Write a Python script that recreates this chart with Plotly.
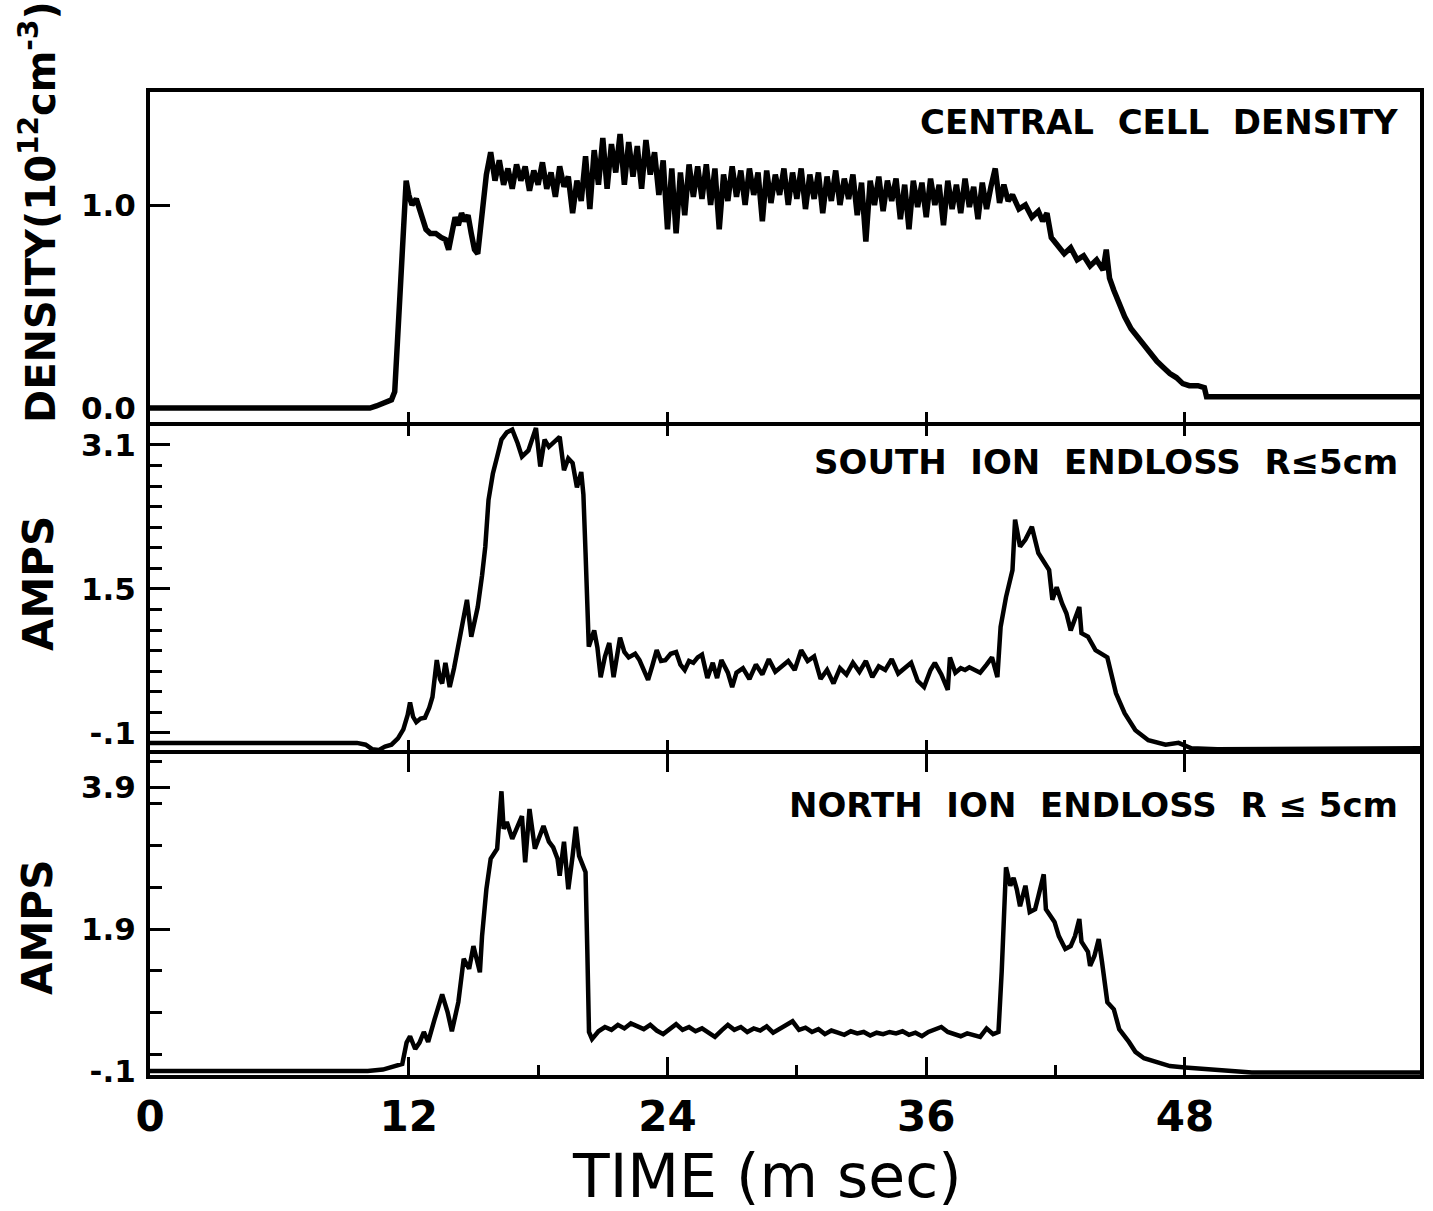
import plotly.graph_objects as go

# ---------------- DATA ----------------
# x axis: TIME (msec)
x_tick_vals = [0, 12, 24, 36, 48]
x_tick_text = ["0", "12", "24", "36", "48"]
x_minor_vals = [18, 30, 42]

# Panel 1: central cell density (10^12 cm^-3)
den_t_a = [0, 10.2, 10.5, 10.9, 11.2, 11.35, 11.45, 11.6, 11.75, 11.88, 12.0, 12.15, 12.35, 12.55, 12.8,
           13.0, 13.25, 13.5, 13.7, 13.85, 14.0, 14.15, 14.3, 14.45, 14.6, 14.75, 14.9, 15.05, 15.2, 15.35, 15.5]
den_v_a = [0.0, 0.0, 0.01, 0.03, 0.04, 0.08, 0.30, 0.62, 0.92, 1.12, 1.05, 1.0, 1.03, 0.97, 0.88,
           0.86, 0.86, 0.84, 0.83, 0.78, 0.86, 0.94, 0.90, 0.96, 0.92, 0.95, 0.86, 0.78, 0.76, 0.90, 1.05]
den_t_b = [15.6, 15.8, 16.0, 16.2, 16.4, 16.6, 16.8, 17.0, 17.2, 17.4, 17.6, 17.8, 18.0, 18.2, 18.4,
           18.6, 18.8, 19.0, 19.2, 19.4, 19.6, 19.8, 20.0, 20.2, 20.4, 20.6, 20.8, 21.0, 21.2, 21.4,
           21.6, 21.8, 22.0, 22.2, 22.4, 22.6, 22.8, 23.0, 23.2, 23.4, 23.6, 23.8, 24.0, 24.2, 24.4,
           24.6, 24.8, 25.0, 25.2, 25.4, 25.6, 25.8, 26.0, 26.2, 26.4, 26.6, 26.8, 27.0, 27.2, 27.4,
           27.6, 27.8, 28.0, 28.2, 28.4, 28.6, 28.8, 29.0, 29.2, 29.4, 29.6, 29.8, 30.0, 30.2, 30.4,
           30.6, 30.8, 31.0, 31.2, 31.4, 31.6, 31.8, 32.0, 32.2, 32.4, 32.6, 32.8, 33.0, 33.2, 33.4,
           33.6, 33.8, 34.0, 34.2, 34.4, 34.6, 34.8, 35.0, 35.2, 35.4, 35.6, 35.8, 36.0, 36.2, 36.4,
           36.6, 36.8, 37.0, 37.2, 37.4, 37.6, 37.8, 38.0, 38.2, 38.4, 38.6, 38.8, 39.0, 39.2, 39.4,
           39.6, 39.8, 40.0]
den_v_b = [1.15, 1.26, 1.12, 1.22, 1.10, 1.18, 1.08, 1.20, 1.12, 1.19, 1.07, 1.17, 1.10, 1.21, 1.08,
           1.16, 1.04, 1.19, 1.09, 1.14, 0.96, 1.12, 1.02, 1.24, 0.98, 1.27, 1.10, 1.33, 1.08, 1.30,
           1.16, 1.35, 1.10, 1.31, 1.14, 1.29, 1.08, 1.32, 1.15, 1.26, 1.05, 1.22, 0.88, 1.18, 0.86,
           1.16, 0.95, 1.20, 1.04, 1.19, 1.03, 1.20, 1.00, 1.18, 0.88, 1.15, 1.02, 1.19, 1.04, 1.17,
           1.00, 1.18, 1.05, 1.16, 0.92, 1.17, 1.01, 1.15, 1.05, 1.18, 1.00, 1.16, 1.03, 1.18, 0.98,
           1.15, 1.03, 1.16, 0.96, 1.14, 1.02, 1.17, 1.00, 1.13, 1.03, 1.15, 0.95, 1.11, 0.82, 1.12,
           1.00, 1.14, 0.97, 1.12, 1.02, 1.13, 0.93, 1.10, 0.88, 1.12, 0.99, 1.11, 0.94, 1.13, 1.00,
           1.10, 0.90, 1.12, 0.98, 1.10, 0.96, 1.13, 0.99, 1.09, 0.93, 1.11, 0.98, 1.09, 1.18, 1.01,
           1.10, 1.02, 1.05]
den_t_c = [40.3, 40.6, 40.9, 41.2, 41.4, 41.6, 41.8, 42.1, 42.4, 42.7, 43.0, 43.3, 43.6, 43.9, 44.2,
           44.35, 44.5, 44.7, 44.9, 45.2, 45.5, 45.8, 46.1, 46.4, 46.7, 47.0, 47.3, 47.6, 47.9, 48.2,
           48.6, 48.9, 49.0, 58.9]
den_v_c = [0.98, 1.00, 0.94, 0.97, 0.92, 0.96, 0.84, 0.80, 0.76, 0.79, 0.73, 0.75, 0.70, 0.73, 0.68,
           0.78, 0.64, 0.58, 0.52, 0.45, 0.39, 0.35, 0.30, 0.27, 0.23, 0.20, 0.17, 0.15, 0.12, 0.11,
           0.11, 0.10, 0.055, 0.055]

# Panel 2: south ion endloss (A)
south_t_a = [0, 9.6, 10.0, 10.3, 10.6, 10.9, 11.2, 11.5, 11.75, 11.95, 12.06, 12.2, 12.35, 12.55, 12.75,
             12.95, 13.1, 13.3, 13.45, 13.55, 13.7, 13.9, 14.1, 14.3, 14.5, 14.7, 14.9, 15.05, 15.2, 15.4,
             15.55, 15.7, 15.9, 16.1, 16.3, 16.55, 16.8, 17.05, 17.25, 17.55, 17.75, 17.9, 18.1, 18.3, 18.5,
             18.7, 19.0, 19.2, 19.4, 19.6, 19.8, 20.0, 20.1, 20.2, 20.35, 20.6, 20.75, 20.9, 21.1, 21.3,
             21.5, 21.8, 22.0, 22.2, 22.5, 22.7, 22.9, 23.1, 23.3, 23.5, 23.7, 23.9, 24.15, 24.4, 24.6,
             24.8, 25.0, 25.2, 25.4, 25.6, 25.85, 26.1, 26.3, 26.5, 26.8, 27.0, 27.2]
south_v_a = [-0.21, -0.21, -0.23, -0.28, -0.29, -0.25, -0.23, -0.16, -0.06, 0.10, 0.24, 0.08, 0.02, 0.06, 0.07,
             0.18, 0.30, 0.71, 0.50, 0.45, 0.68, 0.41, 0.62, 0.86, 1.10, 1.38, 0.97, 1.15, 1.30, 1.65,
             1.97, 2.49, 2.78, 2.97, 3.16, 3.24, 3.27, 3.12, 2.97, 3.04, 3.18, 3.29, 2.86, 3.16, 3.08,
             3.12, 3.19, 2.82, 2.95, 2.90, 2.63, 2.80, 2.55, 1.90, 0.86, 1.04, 0.85, 0.52, 0.75, 0.90,
             0.52, 0.96, 0.80, 0.74, 0.78, 0.71, 0.60, 0.49, 0.65, 0.82, 0.70, 0.71, 0.78, 0.80, 0.66,
             0.60, 0.70, 0.68, 0.74, 0.77, 0.51, 0.68, 0.51, 0.71, 0.57, 0.41, 0.57]
south_t_b = [27.5, 27.8, 28.1, 28.4, 28.7, 29.0, 29.3, 29.6, 29.9, 30.2, 30.5, 30.8, 31.1, 31.4, 31.7,
             32.0, 32.3, 32.6, 32.9, 33.2, 33.5, 33.8, 34.1, 34.4, 34.7, 35.0, 35.3, 35.6, 35.9, 36.2,
             36.4, 36.7, 37.0, 37.1, 37.35, 37.6, 37.8, 38.0, 38.25, 38.5, 38.8, 39.05, 39.3]
south_v_b = [0.62, 0.50, 0.66, 0.55, 0.72, 0.58, 0.64, 0.70, 0.60, 0.82, 0.70, 0.75, 0.50, 0.60, 0.45,
             0.62, 0.55, 0.68, 0.58, 0.70, 0.52, 0.64, 0.60, 0.72, 0.56, 0.62, 0.68, 0.48, 0.41, 0.60,
             0.68, 0.55, 0.38, 0.74, 0.57, 0.62, 0.60, 0.63, 0.60, 0.57, 0.66, 0.74, 0.52]
south_t_c = [39.45, 39.7, 40.0, 40.12, 40.35, 40.6, 40.9, 41.2, 41.45, 41.7, 41.85, 42.05, 42.3, 42.5, 42.7,
             42.9, 43.1, 43.2, 43.5, 43.85, 44.1, 44.4, 44.8, 45.2, 45.7, 46.3, 47.1, 47.7, 48.3, 49.5, 58.9]
south_v_c = [1.08, 1.41, 1.71, 2.27, 1.97, 2.05, 2.19, 1.90, 1.80, 1.71, 1.38, 1.52, 1.34, 1.23, 1.04,
             1.18, 1.30, 1.01, 0.97, 0.82, 0.78, 0.74, 0.34, 0.12, -0.07, -0.18, -0.23, -0.21, -0.27, -0.28, -0.27]

# Panel 3: north ion endloss (A)
north_t_a = [0, 10.1, 10.8, 11.5, 11.7, 11.9, 12.06, 12.3, 12.5, 12.7, 12.9, 13.2, 13.55, 13.8, 14.0,
             14.3, 14.55, 14.8, 15.0, 15.3, 15.4, 15.6, 15.8, 16.1, 16.2, 16.3, 16.4, 16.55, 16.8, 17.0,
             17.25, 17.4, 17.6, 17.85, 18.05, 18.25, 18.5, 18.7, 18.9, 19.0, 19.2, 19.4, 19.6, 19.75, 19.9,
             20.1, 20.2, 20.28, 20.36, 20.5]
north_v_a = [-0.1, -0.1, -0.08, -0.03, 0.0, 0.3, 0.39, 0.21, 0.30, 0.45, 0.31, 0.63, 0.98, 0.73, 0.46,
             0.87, 1.48, 1.34, 1.66, 1.29, 1.80, 2.46, 2.89, 3.03, 3.55, 3.84, 3.31, 3.41, 3.17, 3.31,
             3.49, 2.84, 3.59, 3.03, 3.20, 3.35, 3.13, 3.05, 2.89, 2.65, 3.13, 2.46, 2.93, 3.34, 2.93,
             2.80, 2.70, 1.62, 0.45, 0.35]
north_t_b = [20.8, 21.1, 21.4, 21.7, 22.0, 22.3, 22.6, 22.9, 23.2, 23.5, 23.8, 24.1, 24.4, 24.7, 25.0,
             25.3, 25.6, 25.9, 26.2, 26.5, 26.8, 27.1, 27.4, 27.7, 28.0, 28.3, 28.6, 28.9, 29.2, 29.5,
             29.8, 30.1, 30.4, 30.7, 31.0, 31.3, 31.6, 31.9, 32.2, 32.5, 32.8, 33.1, 33.4, 33.7, 34.0,
             34.3, 34.6, 34.9, 35.2, 35.5, 35.8, 36.1, 36.4, 36.7, 37.0, 37.3, 37.6, 37.9, 38.2, 38.5,
             38.8, 39.1]
north_v_b = [0.46, 0.52, 0.48, 0.55, 0.50, 0.57, 0.53, 0.49, 0.55, 0.47, 0.42, 0.50, 0.56, 0.48, 0.52,
             0.46, 0.50, 0.44, 0.38, 0.47, 0.55, 0.48, 0.52, 0.45, 0.50, 0.47, 0.53, 0.44, 0.49, 0.54,
             0.60, 0.48, 0.51, 0.45, 0.49, 0.42, 0.47, 0.44, 0.41, 0.46, 0.43, 0.45, 0.40, 0.44, 0.42,
             0.45, 0.43, 0.46, 0.41, 0.44, 0.39, 0.45, 0.49, 0.52, 0.45, 0.42, 0.39, 0.43, 0.40, 0.38,
             0.50, 0.42]
north_t_c = [39.35, 39.5, 39.7, 39.9, 40.05, 40.2, 40.35, 40.6, 40.8, 41.05, 41.2, 41.45, 41.55, 41.75, 41.95,
             42.15, 42.45, 42.7, 42.9, 43.1, 43.2, 43.5, 43.6, 43.8, 44.0, 44.15, 44.4, 44.7, 44.95, 45.4,
             45.7, 46.1, 46.6, 47.3, 48.0, 48.8, 49.8, 50.6, 51.1, 58.9]
north_v_c = [0.45, 1.3, 2.77, 2.51, 2.62, 2.46, 2.22, 2.51, 2.14, 2.18, 2.36, 2.67, 2.18, 2.08, 2.0,
             1.80, 1.62, 1.66, 1.80, 2.04, 1.72, 1.58, 1.38, 1.52, 1.76, 1.44, 0.87, 0.77, 0.49, 0.31,
             0.17, 0.08, 0.03, -0.03, -0.05, -0.07, -0.08, -0.10, -0.12, -0.12]

# tick labels
den_tick_vals = [0.0, 1.0]
den_tick_text = ["0.0", "1.0"]
south_tick_vals = [-0.1, 1.5, 3.1]
south_tick_text = ["-.1", "1.5", "3.1"]
north_tick_vals = [-0.1, 1.9, 3.9]
north_tick_text = ["-.1", "1.9", "3.9"]

panel_titles = ["CENTRAL  CELL  DENSITY", "SOUTH  ION  ENDLOSS  R\u22645cm", "NORTH  ION  ENDLOSS  R \u2264 5cm"]

# ---------------- assemble ----------------
den_t = den_t_a + den_t_b + den_t_c
den_v = den_v_a + den_v_b + den_v_c
south_t = south_t_a + south_t_b + south_t_c
south_v = south_v_a + south_v_b + south_v_c
north_t = north_t_a + north_t_b + north_t_c
north_v = north_v_a + north_v_b + north_v_c
assert len(den_t) == len(den_v), (len(den_t), len(den_v))
assert len(south_t) == len(south_v), (len(south_t), len(south_v))
assert len(north_t) == len(north_v), (len(north_t), len(north_v))

FONT = "DejaVu Sans, Liberation Sans, sans-serif"

fig = go.Figure()
fig.add_trace(go.Scatter(x=den_t, y=den_v, mode="lines", line=dict(color="black", width=5.5),
                         xaxis="x", yaxis="y", hoverinfo="skip"))
fig.add_trace(go.Scatter(x=south_t, y=south_v, mode="lines", line=dict(color="black", width=4.5),
                         xaxis="x2", yaxis="y2", hoverinfo="skip"))
fig.add_trace(go.Scatter(x=north_t, y=north_v, mode="lines", line=dict(color="black", width=4.5),
                         xaxis="x3", yaxis="y3", hoverinfo="skip"))
# empty trace so that the bottom minor-tick axis is drawn
fig.add_trace(go.Scatter(x=[None], y=[None], mode="lines", xaxis="x4", yaxis="y3", hoverinfo="skip"))

XR = [0, 58.9]
common_x = dict(range=XR, showgrid=False, zeroline=False, showline=True, linecolor="black",
                linewidth=4, ticks="inside", tickcolor="black", tickwidth=3, ticklen=10,
                tickvals=[12, 24, 36, 48], showticklabels=False, automargin=False)
common_y = dict(showgrid=False, zeroline=False, showline=True, linecolor="black", linewidth=4,
                mirror=True, ticks="inside", tickcolor="black", tickwidth=3, ticklen=20,
                tickfont=dict(family=FONT, size=31, color="black", weight="bold"),
                ticklabelstandoff=4, automargin=False)

fig.update_layout(
    width=1433, height=1211,
    margin=dict(l=150, r=13, t=92, b=136, autoexpand=False),
    paper_bgcolor="white", plot_bgcolor="white",
    showlegend=False,
    xaxis=dict(common_x, anchor="y", mirror=True),
    xaxis2=dict(common_x, anchor="y2", mirror="ticks", matches="x"),
    xaxis3=dict(common_x, anchor="y3", mirror="ticks", matches="x",
                tickvals=x_tick_vals, ticktext=x_tick_text, showticklabels=True, ticklen=18,
                ticklabelstandoff=2,
                tickfont=dict(family=FONT, size=42, color="black", weight="bold")),
    xaxis4=dict(range=XR, overlaying="x3", anchor="y3", side="bottom", showgrid=False, zeroline=False,
                showline=False, ticks="inside", tickvals=x_minor_vals, ticklen=10, tickwidth=3,
                tickcolor="black", showticklabels=False, automargin=False, matches="x"),
    yaxis=dict(common_y, domain=[0.66429, 1.0], range=[-0.069, 1.5567], anchor="x",
               tickvals=den_tick_vals, ticktext=den_tick_text),
    yaxis2=dict(common_y, domain=[0.33062, 0.66022], range=[-0.289, 3.311], anchor="x2",
                tickvals=south_tick_vals, ticktext=south_tick_text,
                minor=dict(tick0=-0.1, dtick=1.6 / 7, ticklen=12, tickwidth=3, tickcolor="black", ticks="inside")),
    yaxis3=dict(common_y, domain=[0.0, 0.32655], range=[-0.156, 4.365], anchor="x3",
                tickvals=north_tick_vals, ticktext=north_tick_text,
                minor=dict(tick0=1.9, dtick=0.59, ticklen=12, tickwidth=3, tickcolor="black", ticks="inside")),
)

ann = []
for txt, yy in zip(panel_titles, [0.9695, 0.6236, 0.2747]):
    ann.append(dict(text=txt, xref="paper", yref="paper", x=0.9843, y=yy, xanchor="right", yanchor="middle",
                    showarrow=False, font=dict(family=FONT, size=34, color="black", weight="bold")))
ann.append(dict(text="DENSITY(10<sup>12</sup>cm<sup>-3</sup>)", xref="paper", yref="paper",
                x=-0.0882, y=0.878, xanchor="center", yanchor="middle", textangle=-90, showarrow=False,
                font=dict(family=FONT, size=40, color="black", weight="bold")))
for yy in [0.5005, 0.1506]:
    ann.append(dict(text="AMPS", xref="paper", yref="paper", x=-0.0882, y=yy, xanchor="center",
                    yanchor="middle", textangle=-90, showarrow=False,
                    font=dict(family=FONT, size=42, color="black", weight="bold")))
ann.append(dict(text="TIME (m sec)", xref="paper", yref="paper", x=0.4858, y=-0.1027, xanchor="center",
                yanchor="middle", showarrow=False, font=dict(family=FONT, size=60, color="black")))
fig.update_layout(annotations=ann)

fig.write_html("out.html", config={"displayModeBar": False},
               post_script="document.body.style.margin='0px';document.body.style.padding='0px';")
